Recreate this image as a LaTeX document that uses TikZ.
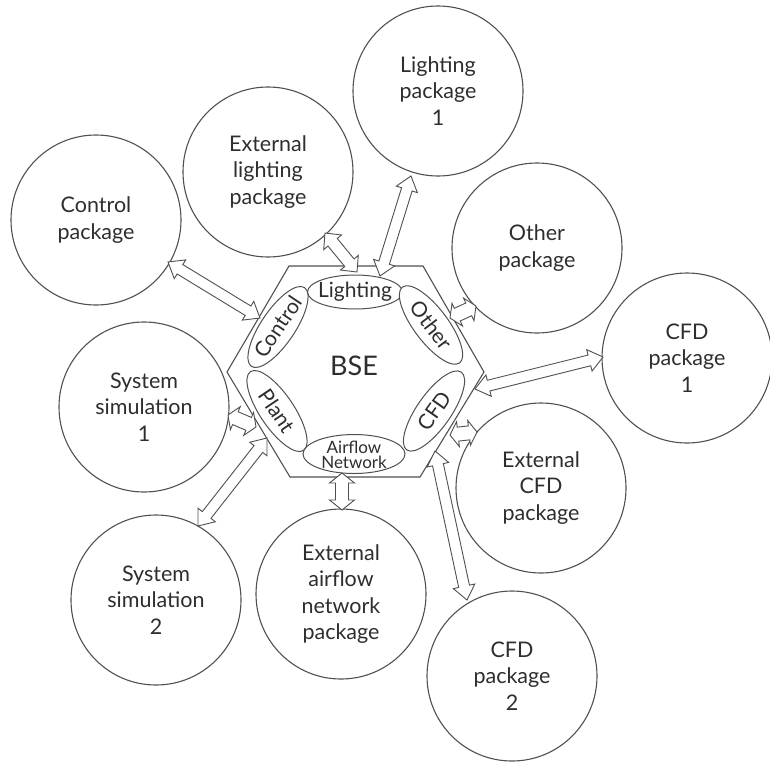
\documentclass[tikz,border=0pt]{standalone}
\usepackage{fontspec}
\setmainfont{Lato}
\usetikzlibrary{calc,shapes.geometric}
\definecolor{ln}{HTML}{505050}
\definecolor{tx}{HTML}{2E2E2E}
% double hollow arrow: #1 start, #2 end, #3 shaft half-width, #4 head half-width, #5 head length
\newcommand{\dblarr}[5]{%
  \draw[arrline] (#1)
   -- ($(#1)!#5!(#2)!#4!90:(#2)$) -- ($(#1)!#5!(#2)!#3!90:(#2)$)
   -- ($(#2)!#5!(#1)!#3!-90:(#1)$) -- ($(#2)!#5!(#1)!#4!-90:(#1)$)
   -- (#2)
   -- ($(#2)!#5!(#1)!#4!90:(#1)$) -- ($(#2)!#5!(#1)!#3!90:(#1)$)
   -- ($(#1)!#5!(#2)!#3!-90:(#2)$) -- ($(#1)!#5!(#2)!#4!-90:(#2)$)
   -- cycle;}
\begin{document}
\begin{tikzpicture}[x=1pt,y=-1pt,
  pkg/.style={circle, draw=ln, line width=1.1pt, fill=white, minimum size=170pt,
    inner sep=0pt, align=center, text=tx, font=\fontsize{21.5}{26.5}\selectfont},
  bub/.style={ellipse, draw=ln, line width=1pt, fill=white, minimum width=95pt,
    minimum height=34pt, inner sep=0pt},
  bubtext/.style={text=tx, inner sep=0pt, font=\fontsize{21}{22}\selectfont, align=center},
  hexline/.style={draw=ln, line width=1.1pt},
  arrline/.style={draw=ln, line width=0.9pt, fill=white, line join=miter}]
\useasboundingbox (0,0) rectangle (770,766);
\fill[white] (0,0) rectangle (770,766);

% hexagon
\coordinate (h1) at (227,372);
\coordinate (h2) at (289,266);
\coordinate (h3) at (423,266);
\coordinate (h4) at (484,372);
\coordinate (h5) at (420,477);
\coordinate (h6) at (290,477);
\draw[hexline] (h1) -- (h2) -- (h3) -- (h4) -- (h5) -- (h6) -- cycle;

\node[text=tx, font=\fontsize{27}{28}\selectfont] (bse) at (354,366) {BSE};

% inner modules
\node[bub] (lig) at (355,292) {};
\node[bubtext] (ligt) at (lig) {Lighting};
\node[bub, rotate=56] (ctl) at (278,327) {};
\node[bubtext, rotate=56] (ctlt) at (ctl) {Control};
\node[bub, rotate=-53] (oth) at (431,325) {};
\node[bubtext, rotate=-53] (otht) at (oth) {Other};
\node[bub, rotate=55] (cfd) at (434,411) {};
\node[bubtext, rotate=55] (cfdt) at (cfd) {CFD};
\node[bub, rotate=-56] (plt) at (277,411) {};
\node[bubtext, rotate=-56] (pltt) at (plt) {Plant};
\node[bub, minimum width=102pt, minimum height=39pt] (air) at (354,454) {};
\node[bubtext, font=\fontsize{17}{15}\selectfont] (airt) at ([yshift=-1pt]air) {Airflow\\Network};

% packages
\node[pkg] (ctlp) at (96,220) {Control\\package};
\node[pkg] (extl) at (268,172) {External\\lighting\\package};
\node[pkg] (lp1) at (438,91) {Lighting\\package\\1};
\node[pkg] (othp) at (537,248) {Other\\package};
\node[pkg] (cfd1) at (687,358) {CFD\\package\\1};
\node[pkg] (ss1) at (144,407) {System\\simulation\\1};
\node[pkg] (extc) at (541,488) {External\\CFD\\package};
\node[pkg] (ss2) at (156,600) {System\\simulation\\2};
\node[pkg] (exta) at (341,594) {External\\airflow\\network\\package};
\node[pkg] (cfd2) at (512,676) {CFD\\package\\2};

% connector end points
\coordinate (a1s) at (260,318); \coordinate (a1e) at (168,262);
\coordinate (a2s) at (357,272); \coordinate (a2e) at (325,233);
\coordinate (a3s) at (380,276); \coordinate (a3e) at (411,176);
\coordinate (a4s) at (450,318); \coordinate (a4e) at (476,306);
\coordinate (a5s) at (475,389); \coordinate (a5e) at (603,357);
\coordinate (a6s) at (450,435); \coordinate (a6e) at (477,432);
\coordinate (a7s) at (435,451); \coordinate (a7e) at (467,600);
\coordinate (a8s) at (342,473); \coordinate (a8e) at (342,510);
\coordinate (a9s) at (267,438); \coordinate (a9e) at (198,526);
\coordinate (a10s) at (256,427); \coordinate (a10e) at (228,415);

\dblarr{a1s}{a1e}{5.5pt}{11pt}{14pt}
\dblarr{a2s}{a2e}{6pt}{11.5pt}{12pt}
\dblarr{a3s}{a3e}{5.5pt}{11pt}{14pt}
\dblarr{a4s}{a4e}{7pt}{12.5pt}{8pt}
\dblarr{a5s}{a5e}{5.5pt}{11pt}{14pt}
\dblarr{a6s}{a6e}{7pt}{12.5pt}{8pt}
\dblarr{a7s}{a7e}{5.5pt}{11pt}{14pt}
\dblarr{a8s}{a8e}{6.5pt}{12.5pt}{10pt}
\dblarr{a9s}{a9e}{5.5pt}{11pt}{14pt}
\dblarr{a10s}{a10e}{7pt}{12.5pt}{8pt}
\end{tikzpicture}
\end{document}
